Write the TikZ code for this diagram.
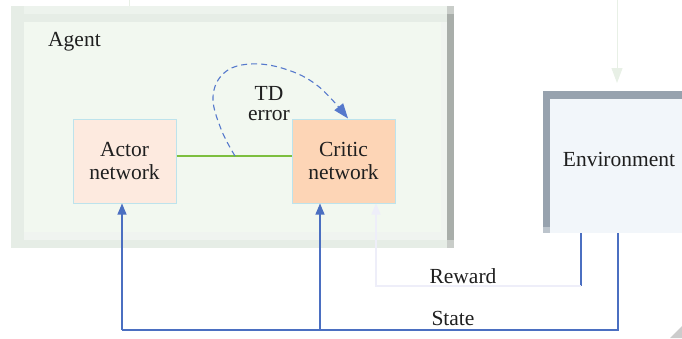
\documentclass[tikz,border=0pt]{standalone}
\usepackage{fontspec}
\setmainfont{Liberation Serif}
\usetikzlibrary{arrows.meta,calc}
\definecolor{agentout}{HTML}{E6EDE6}
\definecolor{agentin}{HTML}{F2F8F0}
\definecolor{agentedge}{HTML}{A9AEAA}
\definecolor{agentcorner}{HTML}{C9CDC9}
\definecolor{actorfill}{HTML}{FDEADF}
\definecolor{criticfill}{HTML}{FDD5B6}
\definecolor{boxedge}{HTML}{BDE3EC}
\definecolor{envfill}{HTML}{F2F6FA}
\definecolor{envedge}{HTML}{97A2AE}
\definecolor{envcorner}{HTML}{BCC4CC}
\definecolor{linkblue}{HTML}{4B6FC1}
\definecolor{dashblue}{HTML}{5679CC}
\definecolor{linkgreen}{HTML}{7DBF3F}
\definecolor{faintgreen}{HTML}{E8F0E6}
\definecolor{faintblue}{HTML}{EEEEF9}
\tikzset{
  every node/.style={font=\fontsize{21.5}{23}\selectfont, text=black!88},
  netbox/.style={draw=boxedge, line width=1pt, minimum width=103pt, minimum height=84pt, align=center, inner sep=0pt},
  bluelink/.style={draw=linkblue, line width=1.1pt},
  bluearrow/.style={bluelink, -{Triangle[length=11pt,width=9pt]}},
  faintlink/.style={draw=faintblue, line width=1.1pt},
  tdlink/.style={draw=dashblue, line width=1.1pt, dash pattern=on 6pt off 4pt, -{Triangle[length=15pt,width=11pt]}},
}
\begin{document}
\begin{tikzpicture}[x=1pt,y=-1pt]
\useasboundingbox (0,0) rectangle (682,338);
\clip (0,0) rectangle (682,338);
% faint line leaving the agent at the top
\coordinate (topout) at (129,0);
\draw[draw=faintgreen, line width=1pt] (129,119) -- (topout);
% agent container
\fill[agentout] (11,6) rectangle (454,248);
\fill[agentout!70!white] (24,6) rectangle (447,14);
\fill[agentin] (24,22) rectangle (441,232);
\fill[agentout!60!white] (441,22) rectangle (447,240);
\fill[agentout!60!white] (24,232) rectangle (441,240);
\fill[agentedge] (447,14) rectangle (454,240);
\fill[agentcorner] (447,6) rectangle (454,14);
\fill[agentcorner] (447,240) rectangle (454,248);
\node[anchor=base west, inner sep=0pt] (agentlbl) at (48,46) {Agent};
% networks
\node[netbox, fill=actorfill] (actor) at (124.5,161) {Actor\\network};
\node[netbox, fill=criticfill] (critic) at (343.5,161) {Critic\\network};
\draw[draw=linkgreen, line width=1.2pt] ([yshift=5pt]actor.east) -- ([yshift=5pt]critic.west);
\coordinate (tdstart) at (235,156);
\coordinate (tdend) at ([xshift=4.5pt]critic.north);
\draw[tdlink] plot[smooth, tension=0.65] coordinates {(tdstart) (221,129) (213,97) (224,73) (250,64) (285,69) (318,86) (tdend)};
\node[align=center, inner sep=0pt, font=\fontsize{21.5}{20}\selectfont] (td) at (269,104) {TD\\error};
% environment
\fill[envfill] (543,91) rectangle (690,233);
\fill[envedge] (543,91) rectangle (690,99);
\fill[envedge] (543,99) rectangle (550,227);
\fill[envcorner] (543,227) rectangle (550,233);
\node (env) at (619,159) {Environment};
\coordinate (envtop) at (617,91);
\coordinate (envrew) at (581,233);
\coordinate (envstate) at (618,233);
% action arrow (faint)
\coordinate (actin) at (617,0);
\draw[draw=faintgreen, line width=1pt, -{Triangle[length=15pt,width=11pt]}, shorten >=8pt] (actin) -- (envtop);
% reward
\coordinate (rw1) at (581,286);
\coordinate (rw2) at (376,286);
\draw[bluelink] (envrew) -- (rw1);
\draw[faintlink, -{Triangle[length=11pt,width=9pt]}] (rw1) -- (rw2) -- (rw2 |- critic.south);
\node[anchor=base, inner sep=0pt] (rewardlbl) at (463,283) {Reward};
% state
\coordinate (st1) at (618,330);
\coordinate (st2) at (122,330);
\coordinate (st3) at (320,330);
\draw[bluelink] (envstate) -- (st1) -- (st2);
\draw[bluearrow] (st2) -- (st2 |- actor.south);
\draw[bluearrow] (st3) -- (st3 |- critic.south);
\node[anchor=base, inner sep=0pt] (statelbl) at (453,325) {State};
% corner mark
\fill[black!20] (670,338) -- (682,326) -- (682,338) -- cycle;
\end{tikzpicture}
\end{document}
